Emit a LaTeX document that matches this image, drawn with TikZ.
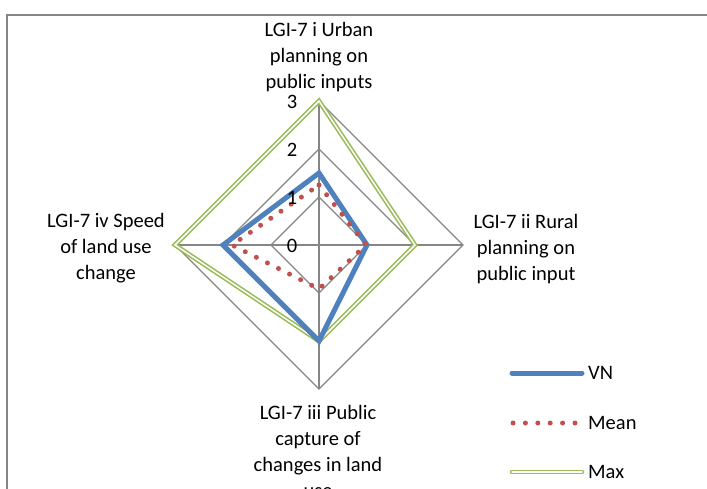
\documentclass[tikz,border=0pt]{standalone}
\usepackage{fontspec}
\usetikzlibrary{calc}
\setmainfont{Carlito}
\definecolor{gridgray}{HTML}{868686}
\definecolor{vnblue}{HTML}{4F81BD}
\definecolor{meanred}{HTML}{C0504D}
\definecolor{maxgreen}{HTML}{9BBB59}
\tikzset{
  gridline/.style={draw=gridgray, line width=1.3pt},
  vnline/.style={draw=vnblue, line width=5pt, line join=miter},
  meanline/.style={draw=meanred, line width=5pt, line cap=round, dash pattern=on 0pt off 12.4pt},
  maxline/.style={draw=maxgreen, line width=1.6pt, double=white, double distance=1.5pt},
  lbl/.style={font=\fontsize{20.5}{26}\selectfont, align=center, inner sep=0pt},
  ticklbl/.style={font=\fontsize{20.5}{24}\selectfont, inner sep=0pt}
}
\begin{document}
\begin{tikzpicture}[x=1pt,y=-1pt]
\useasboundingbox (0,0) rectangle (707,488);
\clip (0,0) rectangle (707,488);
\fill[white] (0,0) rectangle (707,488);
% frame
\draw[draw=gridgray, line width=1.8pt] (7,490) -- (7,15) -- (710,15);
% center
\coordinate (c) at (319,245);
% grid diamonds
\foreach \r in {48,96,144} {
  \draw[gridline] ($(c)+(0,-\r)$) -- ($(c)+(\r,0)$) -- ($(c)+(0,\r)$) -- ($(c)+(-\r,0)$) -- cycle;
}
\coordinate (t3) at (319,101);
\coordinate (r3) at (463,245);
\coordinate (b3) at (319,389);
\coordinate (l3) at (175,245);
\draw[gridline] (c) -- (t3);
\draw[gridline] (c) -- (r3);
\draw[gridline] (c) -- (b3);
\draw[gridline] (c) -- (l3);
% series
\coordinate (vt) at (319,173);
\coordinate (vr) at (367,245);
\coordinate (vb) at (319,341);
\coordinate (vl) at (223,245);
\coordinate (mt) at (319,185);
\coordinate (mr) at (366,245);
\coordinate (mb) at (319,289);
\coordinate (ml) at (232,245);
\coordinate (xt) at (319,101);
\coordinate (xr) at (415,245);
\coordinate (xb) at (319,341);
\coordinate (xl) at (175,245);
\draw[maxline] (xt) -- (xr) -- (xb) -- (xl) -- cycle;
\draw[vnline] (vt) -- (vr) -- (vb) -- (vl) -- cycle;
\draw[meanline] (mt) -- (mr) -- (mb) -- (ml) -- cycle;
% tick labels
\node[ticklbl] (n3) at (292,101.5) {3};
\node[ticklbl] (n2) at (292,149.5) {2};
\node[ticklbl] (n1) at (292,197.5) {1};
\node[ticklbl] (n0) at (292,245.5) {0};
% axis labels
\node[lbl] (lt) at (319,57) {LGI-7 i Urban\\planning on\\public inputs};
\node[lbl] (lr) at (526,249) {LGI-7 ii Rural\\planning on\\public input};
\node[lbl] (ll) at (106,248) {LGI-7 iv Speed\\of land use\\change};
\node[lbl] (lb) at (318,451) {LGI-7 iii Public\\capture of\\changes in land\\use};
% legend
\coordinate (k1a) at (512,373);
\coordinate (k1b) at (582,373);
\coordinate (k2a) at (513,423);
\coordinate (k2b) at (577,423);
\coordinate (k3a) at (512,472);
\coordinate (k3b) at (582,472);
\draw[vnline, line cap=round] (k1a) -- (k1b);
\draw[meanline] (k2a) -- (k2b);
\draw[maxline, line cap=round] (k3a) -- (k3b);
\node[lbl, anchor=west] (g1) at (588,373) {VN};
\node[lbl, anchor=west] (g2) at (588,423) {Mean};
\node[lbl, anchor=west] (g3) at (588,472) {Max};
\end{tikzpicture}
\end{document}
